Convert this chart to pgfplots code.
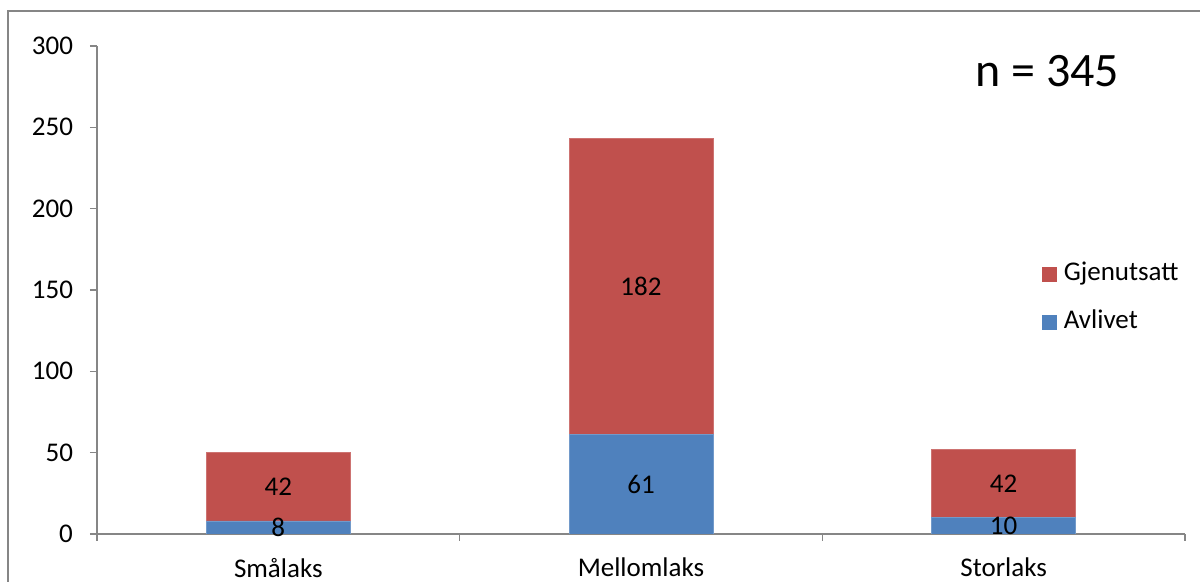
\documentclass[border=0pt]{standalone}
\usepackage{fontspec}
\setmainfont{Carlito}
\usepackage{pgfplots}
\pgfplotsset{compat=1.18}

\definecolor{axisgray}{HTML}{868686}
\definecolor{avred}{HTML}{C0504D}
\definecolor{avblue}{HTML}{4F81BD}

\newcommand{\lbl}{\fontsize{13.5}{15}\selectfont}

\begin{document}
\begin{tikzpicture}
\pgfplotsset{
    base/.style={
        scale only axis,
        width=544pt, height=244pt,
        xmin=-0.5, xmax=2.5,
        ymin=0, ymax=300,
    },
}
\begin{axis}[
    base,
    ybar stacked,
    bar width=72pt,
    axis x line*=bottom,
    axis y line*=left,
    axis line style={axisgray, line width=0.7pt},
    tick align=outside,
    ytick={0,50,...,300},
    major tick length=3.5pt,
    minor tick length=3.5pt,
    ytick style={axisgray, line width=0.7pt},
    xtick={0,1,2},
    xticklabels={Smålaks,Mellomlaks,Storlaks},
    minor xtick={-0.5,0.5,1.5,2.5},
    major x tick style={draw=none},
    minor x tick style={axisgray, line width=0.7pt},
    tick label style={font=\lbl},
    /pgf/number format/assume math mode=true,
    yticklabel style={xshift=-5pt},
    xticklabel style={yshift=-5pt},
    reverse legend,
    legend style={
        at={(0.8686,0.4816)}, anchor=west,
        draw=none, fill=none, font=\lbl,
        row sep=12pt, inner sep=0pt,
        nodes={inner sep=0pt, text height=9pt, text depth=3pt},
    },
    legend cell align=left,
    legend image code/.code={\fill[#1,draw=none] (0pt,-3.75pt) rectangle (7.5pt,3.75pt); \path (10.5pt,0pt);},
]
\addplot[fill=avblue, draw=avblue!80!white, line width=0.4pt]
    coordinates {(0,8) (1,61) (2,10)};
\addplot[fill=avred, draw=avred!80!white, line width=0.4pt]
    coordinates {(0,42) (1,182) (2,42)};
\legend{Avlivet,Gjenutsatt}
\node[font=\fontsize{24}{28}\selectfont, anchor=base] at (axis cs:2.12,275) {n = 345};
\end{axis}

% segment labels, centred in each segment
\begin{axis}[base, hide axis]
\addplot[draw=none, mark=none,
    nodes near coords, point meta=explicit symbolic,
    every node near coord/.style={anchor=center, font=\lbl, inner sep=0pt}]
    coordinates {(0,4)[8] (0,29)[42] (1,30.5)[61] (1,152)[182] (2,5)[10] (2,31)[42]};
\end{axis}

\draw[axisgray, line width=0.6pt] (-44.5pt,-60pt) |- (640pt,261.5pt);
\pgfresetboundingbox
\path[use as bounding box] (-48.5pt,-24pt) rectangle (551.5pt,267pt);
\end{tikzpicture}
\end{document}
